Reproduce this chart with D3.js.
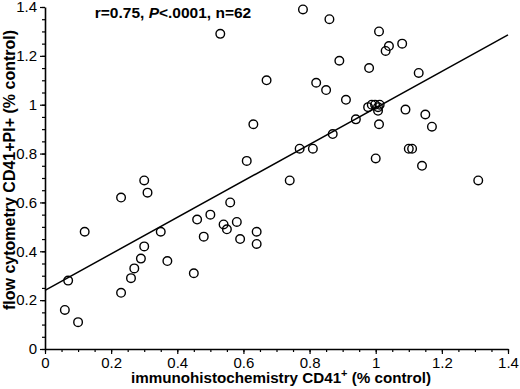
<!DOCTYPE html>
<html>
<head>
<meta charset="utf-8">
<script src="https://cdn.jsdelivr.net/npm/d3@7"></script>
<style>
  body { margin: 0; background: #fff; }
  svg { display: block; font-family: "Liberation Sans", Arial, sans-serif; }
</style>
</head>
<body>
<div id="chart"></div>
<script>
// immunohistochemistry CD41+ (x) vs flow cytometry CD41+PI+ (y)
const xValues = [0.06, 0.07, 0.10, 0.12, 0.23, 0.26, 0.27, 0.29, 0.30, 0.35, 0.37, 0.45,
  0.46, 0.48, 0.50, 0.54, 0.55, 0.56, 0.58, 0.59, 0.64, 0.64, 0.23, 0.30, 0.31, 0.53,
  0.63, 0.61, 0.78, 0.86, 1.01, 1.04, 1.03, 1.08, 0.89, 0.98, 1.13, 0.67, 0.82, 0.85,
  0.91, 0.977, 0.988, 0.998, 1.007, 1.012, 1.007, 1.09, 1.15, 1.17, 0.94, 1.01, 0.87,
  0.77, 0.81, 1.00, 1.10, 1.11, 1.14, 0.74, 1.31];
const yValues = [0.16, 0.28, 0.11, 0.48, 0.23, 0.29, 0.33, 0.37, 0.42, 0.48, 0.36, 0.31,
  0.53, 0.46, 0.55, 0.51, 0.49, 0.60, 0.52, 0.45, 0.48, 0.43, 0.62, 0.69, 0.64, 1.29,
  0.92, 0.77, 1.39, 1.35, 1.30, 1.24, 1.22, 1.25, 1.18, 1.15, 1.13, 1.10, 1.09, 1.06,
  1.02, 0.99, 1.00, 1.00, 0.99, 1.00, 0.975, 0.98, 0.96, 0.91, 0.94, 0.92, 0.88,
  0.82, 0.82, 0.78, 0.82, 0.82, 0.75, 0.69, 0.69];
const tickValues = [0, 0.2, 0.4, 0.6, 0.8, 1, 1.2, 1.4];
const minorTicks = d3.range(0, 1.4001, 0.05);
const fitIntercept = 0.24;
const fitSlope = 0.747;

const points = xValues.map((x, i) => ({ x: x, y: yValues[i] }));

const width = 520, height = 389;
const margin = {top: 7, right: 12, bottom: 40, left: 45};
const plotW = width - margin.left - margin.right;
const plotH = height - margin.top - margin.bottom;

const svg = d3.select("#chart")
    .append("svg")
    .attr("width", width)
    .attr("height", height);

const g = svg.append("g")
    .attr("transform", "translate(" + margin.left + "," + margin.top + ")");

const x = d3.scaleLinear().domain([0, 1.4]).range([0, plotW]);
const y = d3.scaleLinear().domain([0, 1.4]).range([plotH, 0]);

// minor ticks
g.append("g")
    .attr("transform", "translate(0," + plotH + ")")
    .call(d3.axisBottom(x).tickValues(minorTicks).tickSize(3).tickFormat(""))
    .call(a => a.select(".domain").remove());
g.append("g")
    .call(d3.axisLeft(y).tickValues(minorTicks).tickSize(3).tickFormat(""))
    .call(a => a.select(".domain").remove());

// major axes
const xAxis = g.append("g")
    .attr("transform", "translate(0," + plotH + ")")
    .call(d3.axisBottom(x).tickValues(tickValues).tickSize(5).tickSizeOuter(0).tickPadding(3).tickFormat(d3.format("")));
const yAxis = g.append("g")
    .call(d3.axisLeft(y).tickValues(tickValues).tickSize(5).tickSizeOuter(0).tickPadding(3).tickFormat(d3.format("")));

[xAxis, yAxis].forEach(a => {
    a.selectAll("text").style("font-size", "15px").attr("fill", "#000");
    a.select(".domain").attr("stroke", "#000").attr("stroke-width", 1.6);
});
g.selectAll(".tick line").attr("stroke", "#000").attr("stroke-width", 1.2);

// regression line
g.append("line")
    .attr("x1", x(0)).attr("y1", y(fitIntercept))
    .attr("x2", x(1.4)).attr("y2", y(fitIntercept + fitSlope * 1.4))
    .attr("stroke", "#000")
    .attr("stroke-width", 1.5);

// points
g.selectAll("circle.pt")
    .data(points)
    .enter()
    .append("circle")
    .attr("class", "pt")
    .attr("cx", d => x(d.x))
    .attr("cy", d => y(d.y))
    .attr("r", 4.3)
    .attr("fill", "none")
    .attr("stroke", "#000")
    .attr("stroke-width", 1.4);

// stats annotation
const ann = svg.append("text")
    .attr("x", 173)
    .attr("y", 18)
    .attr("text-anchor", "middle")
    .style("font-size", "15.5px")
    .style("font-weight", "bold");
ann.append("tspan").text("r=0.75, ");
ann.append("tspan").style("font-style", "italic").text("P");
ann.append("tspan").text("<.0001, n=62");

// x axis label
const xl = svg.append("text")
    .attr("x", 281)
    .attr("y", 383)
    .attr("text-anchor", "middle")
    .style("font-size", "15.2px")
    .style("font-weight", "bold");
xl.append("tspan").text("immunohistochemistry CD41");
xl.append("tspan").attr("dy", -6).style("font-size", "11px").text("+");
xl.append("tspan").attr("dy", 6).text(" (% control)");

// y axis label
svg.append("text")
    .attr("transform", "translate(15,170) rotate(-90)")
    .attr("text-anchor", "middle")
    .style("font-size", "16px")
    .style("font-weight", "bold")
    .text("flow cytometry CD41+PI+ (% control)");
</script>
</body>
</html>
